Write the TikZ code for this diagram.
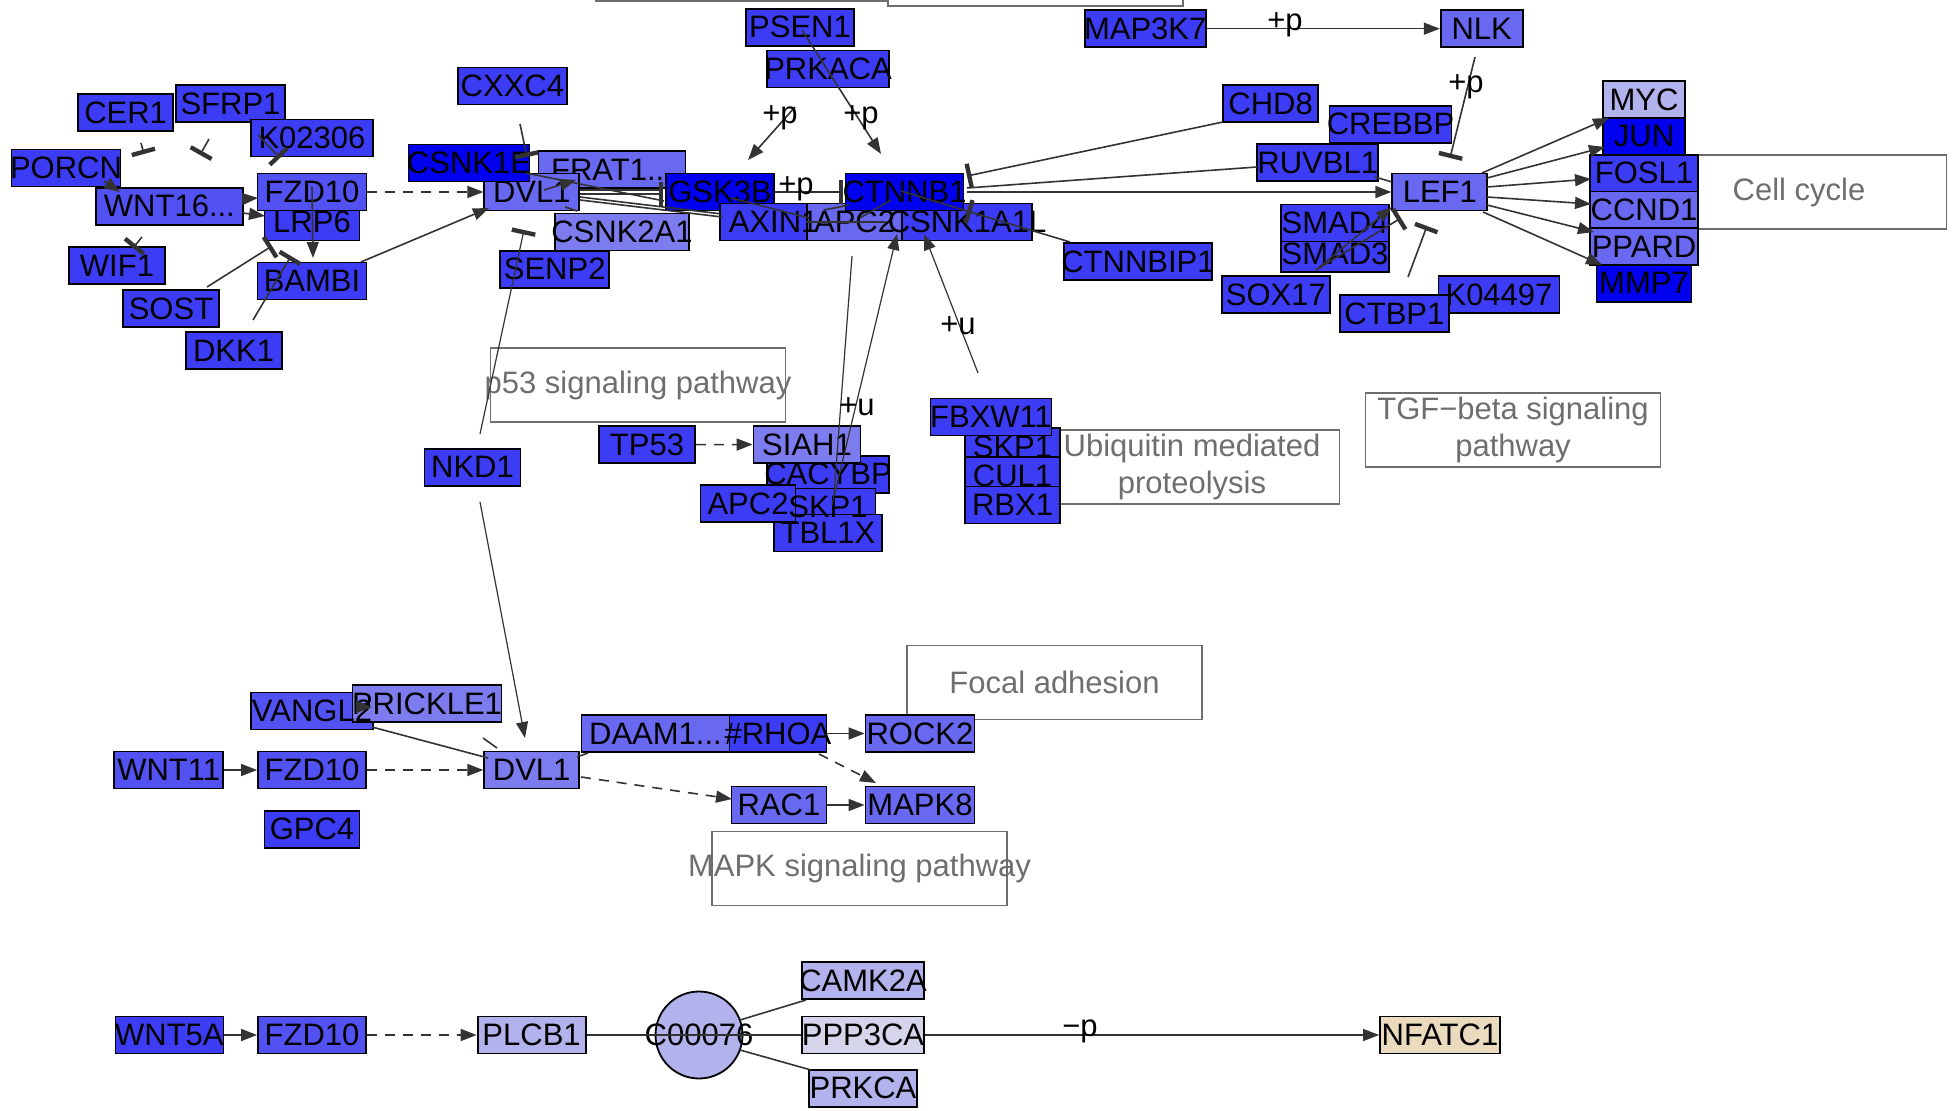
\documentclass[tikz,border=0pt]{standalone}
\usepackage{fontspec}
\setmainfont{Liberation Sans}
\usepackage{tikz}
\usetikzlibrary{arrows.meta,calc}

\definecolor{gdark}{RGB}{0,0,238}
\definecolor{gblue}{RGB}{60,60,244}
\definecolor{gmid}{RGB}{82,82,242}
\definecolor{glight}{RGB}{104,104,240}
\definecolor{gpale}{RGB}{124,124,238}
\definecolor{glav}{RGB}{178,178,236}
\definecolor{gfaint}{RGB}{212,212,234}
\definecolor{gtan}{RGB}{234,218,190}
\definecolor{edgegray}{RGB}{51,51,51}
\definecolor{pwgray}{RGB}{110,110,110}

\begin{document}
\begin{tikzpicture}[x=0.5pt,y=-0.5pt,
    gene/.style={draw=black,line width=0.9pt,rectangle,inner sep=0pt,
        minimum height=18.5pt,minimum width=#1*0.5pt,
        font=\fontsize{15.5}{18}\selectfont},
    pway/.style={draw=pwgray,line width=0.9pt,rectangle,inner sep=0pt,
        minimum width=147.5pt,minimum height=37pt,text=pwgray,align=center,
        font=\fontsize{15.5}{18.5}\selectfont},
    lab/.style={inner sep=0pt,font=\fontsize{15.5}{18}\selectfont},
    act/.style={draw=edgegray,line width=0.8pt,-{Triangle[length=8pt,width=6pt]}},
    inh/.style={draw=edgegray,line width=0.8pt,-{Bar[width=12pt,line width=2.2pt]}},
    ind/.style={act,dash pattern=on 5pt off 4pt},
    lnk/.style={draw=edgegray,line width=0.8pt}]

\def\lbl#1{\makebox[0pt]{#1}}   %text may run past its box

\useasboundingbox (0,0) rectangle (1952,1111);
\clip (0,0) rectangle (1952,1111);

% Pathway boxes
    \draw[pwgray,line width=0.9pt] (596,-60) rectangle (888,1);
    \draw[pwgray,line width=0.9pt] (888,-60) rectangle (1183,6);
    \node[pway] (p53) at (638,385) {\lbl{p53 signaling pathway}};
    \node[pway] (ubiq) at (1192,467) {Ubiquitin mediated\\proteolysis};
    \node[pway] (tgfb) at (1513,430) {TGF−beta signaling\\pathway};
    \node[pway] (cellcyc) at (1799,192) {Cell cycle};
    \node[pway] (focal) at (1054.5,682.5) {Focal adhesion};
    \node[pway] (mapk) at (859.5,868.5) {\lbl{MAPK signaling pathway}};

% Canonical pathway, receptor side
    \node[gene=109,fill=gblue] (PORCN) at (66,168) {\lbl{PORCN}};
    \node[gene=95,fill=gblue] (CER1) at (125.6,112.5) {\lbl{CER1}};
    \node[gene=109,fill=gblue] (SFRP1) at (230.5,103.5) {\lbl{SFRP1}};
    \node[gene=122,fill=gblue] (K02306) at (312,138) {\lbl{K02306}};
    \node[gene=147,fill=gmid] (WNT16) at (169.4,206.3) {\lbl{WNT16...}};
    \node[gene=95,fill=gblue] (LRP6) at (312,222) {\lbl{LRP6}};
    \node[gene=109,fill=gmid] (FZD10a) at (312,192) {\lbl{FZD10}};
    \node[gene=96,fill=gblue] (WIF1) at (117,265.5) {\lbl{WIF1}};
    \node[gene=96,fill=gblue] (SOST) at (171,308.7) {\lbl{SOST}};
    \node[gene=109,fill=gblue] (BAMBI) at (312,281) {\lbl{BAMBI}};
    \node[gene=96,fill=gblue] (DKK1) at (233.6,350.7) {\lbl{DKK1}};

% Destruction complex
    \node[gene=109,fill=gblue] (CXXC4) at (512.4,86) {\lbl{CXXC4}};
    \node[gene=147,fill=glight] (FRAT1) at (612,169.4) {\lbl{FRAT1...}};
    \node[gene=95,fill=glight] (DVL1a) at (531.8,192) {\lbl{DVL1}};
    \node[gene=121,fill=gdark] (CSNK1E) at (469,163) {\lbl{CSNK1E}};
    \node[gene=134,fill=gpale] (CSNK2A1) at (622,232) {\lbl{CSNK2A1}};
    \node[gene=109,fill=gblue] (SENP2) at (554.7,269.3) {\lbl{SENP2}};
    \node[gene=108,fill=gdark] (GSK3B) at (720,192) {\lbl{GSK3B}};
    \node[gene=108,fill=gblue] (AXIN1) at (773.6,222) {};
    \node[gene=95,fill=glight] (APC2a) at (854.6,222) {};
    \node[gene=130,fill=gblue] (CSNK1A1L) at (967,222) {\lbl{CSNK1A1L}};
    \node[gene=118,fill=gdark] (CTNNB1) at (904.5,192) {\lbl{CTNNB1}};
    \node[gene=108,fill=gblue] (PSEN1) at (800,27.2) {\lbl{PSEN1}};
    \node[gene=122,fill=gblue] (PRKACA) at (828,69) {\lbl{PRKACA}};

% Nucleus
    \node[gene=121,fill=gblue] (MAP3K7) at (1145.2,28.7) {\lbl{MAP3K7}};
    \node[gene=82,fill=glight] (NLK) at (1481.7,28.7) {\lbl{NLK}};
    \node[gene=95,fill=gblue] (CHD8) at (1270.6,103.5) {\lbl{CHD8}};
    \node[gene=122,fill=gblue] (CREBBP) at (1390.5,124.3) {\lbl{CREBBP}};
    \node[gene=121,fill=gblue] (RUVBL1) at (1317.7,162.5) {\lbl{RUVBL1}};
    \node[gene=95,fill=glight] (LEF1) at (1439.8,192) {\lbl{LEF1}};
    \node[gene=108,fill=gblue] (SMAD3) at (1335,253.5) {\lbl{SMAD3}};
    \node[gene=108,fill=gblue] (SMAD4) at (1335,223) {\lbl{SMAD4}};
    \node[gene=148,fill=gblue] (CTNNBIP1) at (1138,261.7) {\lbl{CTNNBIP1}};
    \node[gene=108,fill=gblue] (SOX17) at (1275.8,294.7) {\lbl{SOX17}};
    \node[gene=121,fill=gblue] (K04497) at (1499,294.7) {\lbl{K04497}};
    \node[gene=109,fill=gblue] (CTBP1) at (1394.4,313.8) {\lbl{CTBP1}};
    \node[gene=82,fill=glav] (MYC) at (1644,99.8) {\lbl{MYC}};
    \node[gene=82,fill=gdark] (JUN) at (1644,136.3) {\lbl{JUN}};
    \node[gene=108,fill=gblue] (FOSL1) at (1644,173.2) {\lbl{FOSL1}};
    \node[gene=108,fill=glight] (CCND1) at (1644,210) {\lbl{CCND1}};
    \node[gene=108,fill=glight] (PPARD) at (1644,246.7) {\lbl{PPARD}};
    \node[gene=95,fill=gdark] (MMP7) at (1644,283.3) {\lbl{MMP7}};

% p53 and ubiquitin side
    \node[gene=96,fill=gblue] (TP53) at (647,444.7) {\lbl{TP53}};
    \node[gene=122,fill=gblue] (CACYBP) at (828,474.3) {\lbl{CACYBP}};
    \node[gene=107,fill=gpale] (SIAH1) at (807,444.5) {\lbl{SIAH1}};
    \node[gene=95,fill=gblue] (SKP1a) at (828,507) {};
    \node[gene=108,fill=gblue] (TBL1X) at (828,533) {\lbl{TBL1X}};
    \node[gene=95,fill=gblue] (APC2b) at (748,503.8) {\lbl{APC2}};
    \node[gene=95,fill=gblue] (SKP1b) at (1012.5,446.5) {\lbl{SKP1}};
    \node[gene=95,fill=gblue] (CUL1) at (1012.5,475.5) {\lbl{CUL1}};
    \node[gene=95,fill=gblue] (RBX1) at (1012.5,505) {\lbl{RBX1}};
    \node[gene=121,fill=gblue] (FBXW11) at (991,417) {\lbl{FBXW11}};
    \node[gene=96,fill=gblue] (NKD1) at (472.5,467.3) {\lbl{NKD1}};

% Planar cell polarity
    \node[gene=122,fill=gmid] (VANGL2) at (312,711) {};
    \node[gene=149,fill=gpale] (PRICKLE1) at (427,703.5) {\lbl{PRICKLE1}};
    \node[gene=109,fill=gmid] (WNT11) at (168.7,770) {\lbl{WNT11}};
    \node[gene=108,fill=gmid] (FZD10b) at (312,770) {\lbl{FZD10}};
    \node[gene=95,fill=gpale] (DVL1b) at (531.7,770) {\lbl{DVL1}};
    \node[gene=95,fill=gblue] (GPC4) at (312,829.3) {\lbl{GPC4}};
    \node[gene=148,fill=glight] (DAAM1) at (655.5,733.5) {\lbl{DAAM1...}};
    \node[gene=97,fill=gblue] (RHOA) at (778,733.5) {\lbl{\#RHOA}};
    \node[gene=109,fill=glight] (ROCK2) at (920,733.5) {\lbl{ROCK2}};
    \node[gene=95,fill=glight] (RAC1) at (779,805) {\lbl{RAC1}};
    \node[gene=109,fill=glight] (MAPK8) at (920,805) {\lbl{MAPK8}};

% Calcium pathway
    \node[gene=108,fill=gblue] (WNT5A) at (169.4,1035) {\lbl{WNT5A}};
    \node[gene=108,fill=gmid] (FZD10c) at (312,1035) {\lbl{FZD10}};
    \node[gene=108,fill=glav] (PLCB1) at (531.6,1035) {\lbl{PLCB1}};
    \node[gene=87,circle,minimum size=43.5pt,fill=glav] (C00076) at (699,1035) {\lbl{C00076}};
    \node[gene=122,fill=glav] (CAMK2A) at (863,980.5) {\lbl{CAMK2A}};
    \node[gene=122,fill=gfaint] (PPP3CA) at (863,1035) {\lbl{PPP3CA}};
    \node[gene=108,fill=glav] (PRKCA) at (863,1088.3) {\lbl{PRKCA}};
    \node[gene=120,fill=gtan] (NFATC1) at (1440,1035) {\lbl{NFATC1}};

% Names that lie over a neighbouring box
    \node[lab] (AXIN1t) at (AXIN1) {\lbl{AXIN1}};
    \node[lab] (APC2at) at (APC2a) {\lbl{APC2}};
    \node[lab] (SKP1at) at (SKP1a) {\lbl{SKP1}};
    \node[lab] (VANGL2t) at (VANGL2) {\lbl{VANGL2}};

% Define coordinates.
    \coordinate (cerA) at (141,143);   \coordinate (cerB) at (144,154);
    \coordinate (sfrA) at (209,139);   \coordinate (sfrB) at (200,155);
    \coordinate (k02A) at (258,135);   \coordinate (k02B) at (280,158);
    \coordinate (porA) at (104,181);   \coordinate (porB) at (120,192);
    \coordinate (wifA) at (142,237);   \coordinate (wifB) at (133,248);
    \coordinate (wntA) at (243,199);   \coordinate (wntB) at (258,198);
    \coordinate (wntC) at (243,213);   \coordinate (wntD) at (265,216);
    \coordinate (fzdA) at (312,187);   \coordinate (fzdB) at (313,258);
    \coordinate (sosA) at (207,287);   \coordinate (sosB) at (272,246);
    \coordinate (dkkA) at (253,320);   \coordinate (dkkB) at (291,256);
    \coordinate (bamA) at (361,262);   \coordinate (bamB) at (489,208);
    \coordinate (cxxA) at (520,124);   \coordinate (cxxB) at (527,157);
    \coordinate (ckeA) at (526,173);   \coordinate (ckeB) at (664,201);
    \coordinate (dvA) at (544,190);    \coordinate (dvB) at (576,180);
    \coordinate (dvC) at (565,207);    \coordinate (dvD) at (577,211);
    \coordinate (dvE) at (580,190);    \coordinate (gskA) at (663,190);
    \coordinate (dvF) at (580,194);    \coordinate (gskB) at (663,194);
    \coordinate (dvG) at (580,197);    \coordinate (axA) at (722,214);
    \coordinate (dvH) at (580,200);    \coordinate (axB) at (722,217);
    \coordinate (gskC) at (731,198);   \coordinate (apA) at (809,218);
    \coordinate (apB) at (806,222);    \coordinate (apC) at (886,222);
    \coordinate (apD) at (824,210);    \coordinate (ctA) at (849,205);
    \coordinate (apE) at (860,218);    \coordinate (ctB) at (891,200);
    \coordinate (ctC) at (843,192);    \coordinate (ctD) at (967,192);
    \coordinate (psA) at (802,30);     \coordinate (psB) at (881,154);
    \coordinate (pkA) at (795,107);    \coordinate (pkB) at (748,160);
    \coordinate (chA) at (1223,122);   \coordinate (chB) at (967,176);
    \coordinate (ruA) at (1257,167);   \coordinate (ruD) at (967,188);
    \coordinate (ipA) at (1070,242);   \coordinate (ipB) at (967,211);
    \coordinate (ipC) at (901,191);
    \coordinate (nlA) at (1475,57);    \coordinate (nlB) at (1450,158);
    \coordinate (ruB) at (1375,177);   \coordinate (ruC) at (1392,182);
    \coordinate (soA) at (1316,270);   \coordinate (soB) at (1392,207);
    \coordinate (soC) at (1401,218);
    \coordinate (cbA) at (1408,277);   \coordinate (cbB) at (1427,226);
    \coordinate (lfA) at (1482,173);   \coordinate (toMYC) at (1609,118);
    \coordinate (lfB) at (1487,178);   \coordinate (toJUN) at (1605,147);
    \coordinate (lfC) at (1487,187);   \coordinate (toFOS) at (1591,179);
    \coordinate (lfD) at (1487,197);   \coordinate (toCCN) at (1591,204);
    \coordinate (lfE) at (1487,205);   \coordinate (toPPA) at (1594,232);
    \coordinate (lfF) at (1483,212);   \coordinate (toMMP) at (1602,265);
    \coordinate (siA) at (852,256);    \coordinate (siB) at (834,495);
    \coordinate (siC) at (832,505);    \coordinate (siD) at (897,234);
    \coordinate (fbA) at (978,373);    \coordinate (fbB) at (924,234);
    \coordinate (nkA) at (480,434);    \coordinate (nkB) at (524,230);
    \coordinate (nkC) at (480,502);    \coordinate (nkD) at (525,738);
    \coordinate (vaA) at (356,707);    \coordinate (vaB) at (372,707);
    \coordinate (vaC) at (372,727);    \coordinate (vaD) at (488,758);
    \coordinate (vaE) at (483,738);    \coordinate (vaF) at (497,748);
    \coordinate (daA) at (577,757);    \coordinate (daB) at (588,753);
    \coordinate (raA) at (581,777);    \coordinate (raB) at (732,799);
    \coordinate (rhA) at (819,754);    \coordinate (rhB) at (876,783);
    \coordinate (caA) at (740,1020);   \coordinate (caB) at (806,1000);
    \coordinate (pcA) at (740,1050);   \coordinate (pcB) at (811,1070);

% Receptor side
    \draw[inh] (cerA) -- (cerB);
    \draw[inh] (sfrA) -- (sfrB);
    \draw[inh] (k02A) -- (k02B);
    \draw[act] (porA) -- (porB);
    \draw[inh] (wifA) -- (wifB);
    \draw[act] (wntA) -- (wntB);
    \draw[act] (wntC) -- (wntD);
    \draw[act] (fzdA) -- (fzdB);
    \draw[inh] (sosA) -- (sosB);
    \draw[inh] (dkkA) -- (dkkB);
    \draw[act] (bamA) -- (bamB);
    \draw[ind] (FZD10a.east) -- (DVL1a.west);

% Destruction complex
    \draw[inh] (cxxA) -- (cxxB);
    \draw[lnk] (ckeA) -- (ckeB);
    \draw[act] (dvA) -- (dvB);
    \draw[lnk] (dvC) -- (dvD);
    \draw[lnk] (dvE) -- (gskA);
    \draw[inh] (dvF) -- (gskB);
    \draw[lnk] (dvG) -- (axA);
    \draw[lnk] (dvH) -- (axB);
    \draw[lnk] (gskC) -- (apA);
    \draw[lnk] (apB) -- (apC);
    \draw[lnk] (apD) -- (ctA);
    \draw[lnk] (apE) -- (ctB);
    \draw[inh] (GSK3B.east) -- (ctC);
    \draw[act] (psA) -- (psB);
    \draw[act] (pkA) -- (pkB);

% Nucleus
    \draw[inh] (chA) -- (chB);
    \draw[lnk] (ruA) -- (ruD);
    \draw[act] (ctD) -- (LEF1.west);
    \draw[inh] (ipA) -- (ipB);
    \draw[lnk] (ipB) -- (ipC);
    \draw[act] (MAP3K7.east) -- (NLK.west);
    \draw[inh] (nlA) -- (nlB);
    \draw[lnk] (ruB) -- (ruC);
    \draw[act] (soA) -- (soB);
    \draw[inh] (soA) -- (soC);
    \draw[inh] (cbA) -- (cbB);
    \draw[act] (lfA) -- (toMYC);
    \draw[act] (lfB) -- (toJUN);
    \draw[act] (lfC) -- (toFOS);
    \draw[act] (lfD) -- (toCCN);
    \draw[act] (lfE) -- (toPPA);
    \draw[act] (lfF) -- (toMMP);

% Degradation
    \draw[ind] (TP53.east) -- (SIAH1.west);
    \draw[lnk,line width=0.6pt] (siA) -- (siB);
    \draw[act,line width=0.6pt] (siC) -- (siD);
    \draw[act,line width=0.6pt] (fbA) -- (fbB);
    \draw[inh,line width=0.6pt] (nkA) -- (nkB);
    \draw[act,line width=0.6pt] (nkC) -- (nkD);

% Planar cell polarity
    \draw[act] (vaA) -- (vaB);
    \draw[lnk] (vaC) -- (vaD);
    \draw[lnk] (vaE) -- (vaF);
    \draw[act] (WNT11.east) -- (FZD10b.west);
    \draw[ind] (FZD10b.east) -- (DVL1b.west);
    \draw[lnk] (daA) -- (daB);
    \draw[ind] (raA) -- (raB);
    \draw[act] (RHOA.east) -- (ROCK2.west);
    \draw[ind] (rhA) -- (rhB);
    \draw[act] (RAC1.east) -- (MAPK8.west);

% Calcium pathway
    \draw[act] (WNT5A.east) -- (FZD10c.west);
    \draw[ind] (FZD10c.east) -- (PLCB1.west);
    \draw[lnk] (PLCB1.east) -- (C00076.center) -- (PPP3CA.west);
    \draw[lnk] (caA) -- (caB);
    \draw[lnk] (pcA) -- (pcB);
    \draw[act] (PPP3CA.east) -- (NFATC1.west);

% Edge labels
    \node[lab] (lp1) at (780,118) {+p};
    \node[lab] (lp2) at (861,118) {+p};
    \node[lab] (lp3) at (796,189) {+p};
    \node[lab] (lp4) at (1285,25) {+p};
    \node[lab] (lp5) at (1466,87) {+p};
    \node[lab] (lu1) at (958,326) {+u};
    \node[lab] (lu2) at (857,407) {+u};
    \node[lab] (lm1) at (1080,1031) {−p};

\end{tikzpicture}
\end{document}
